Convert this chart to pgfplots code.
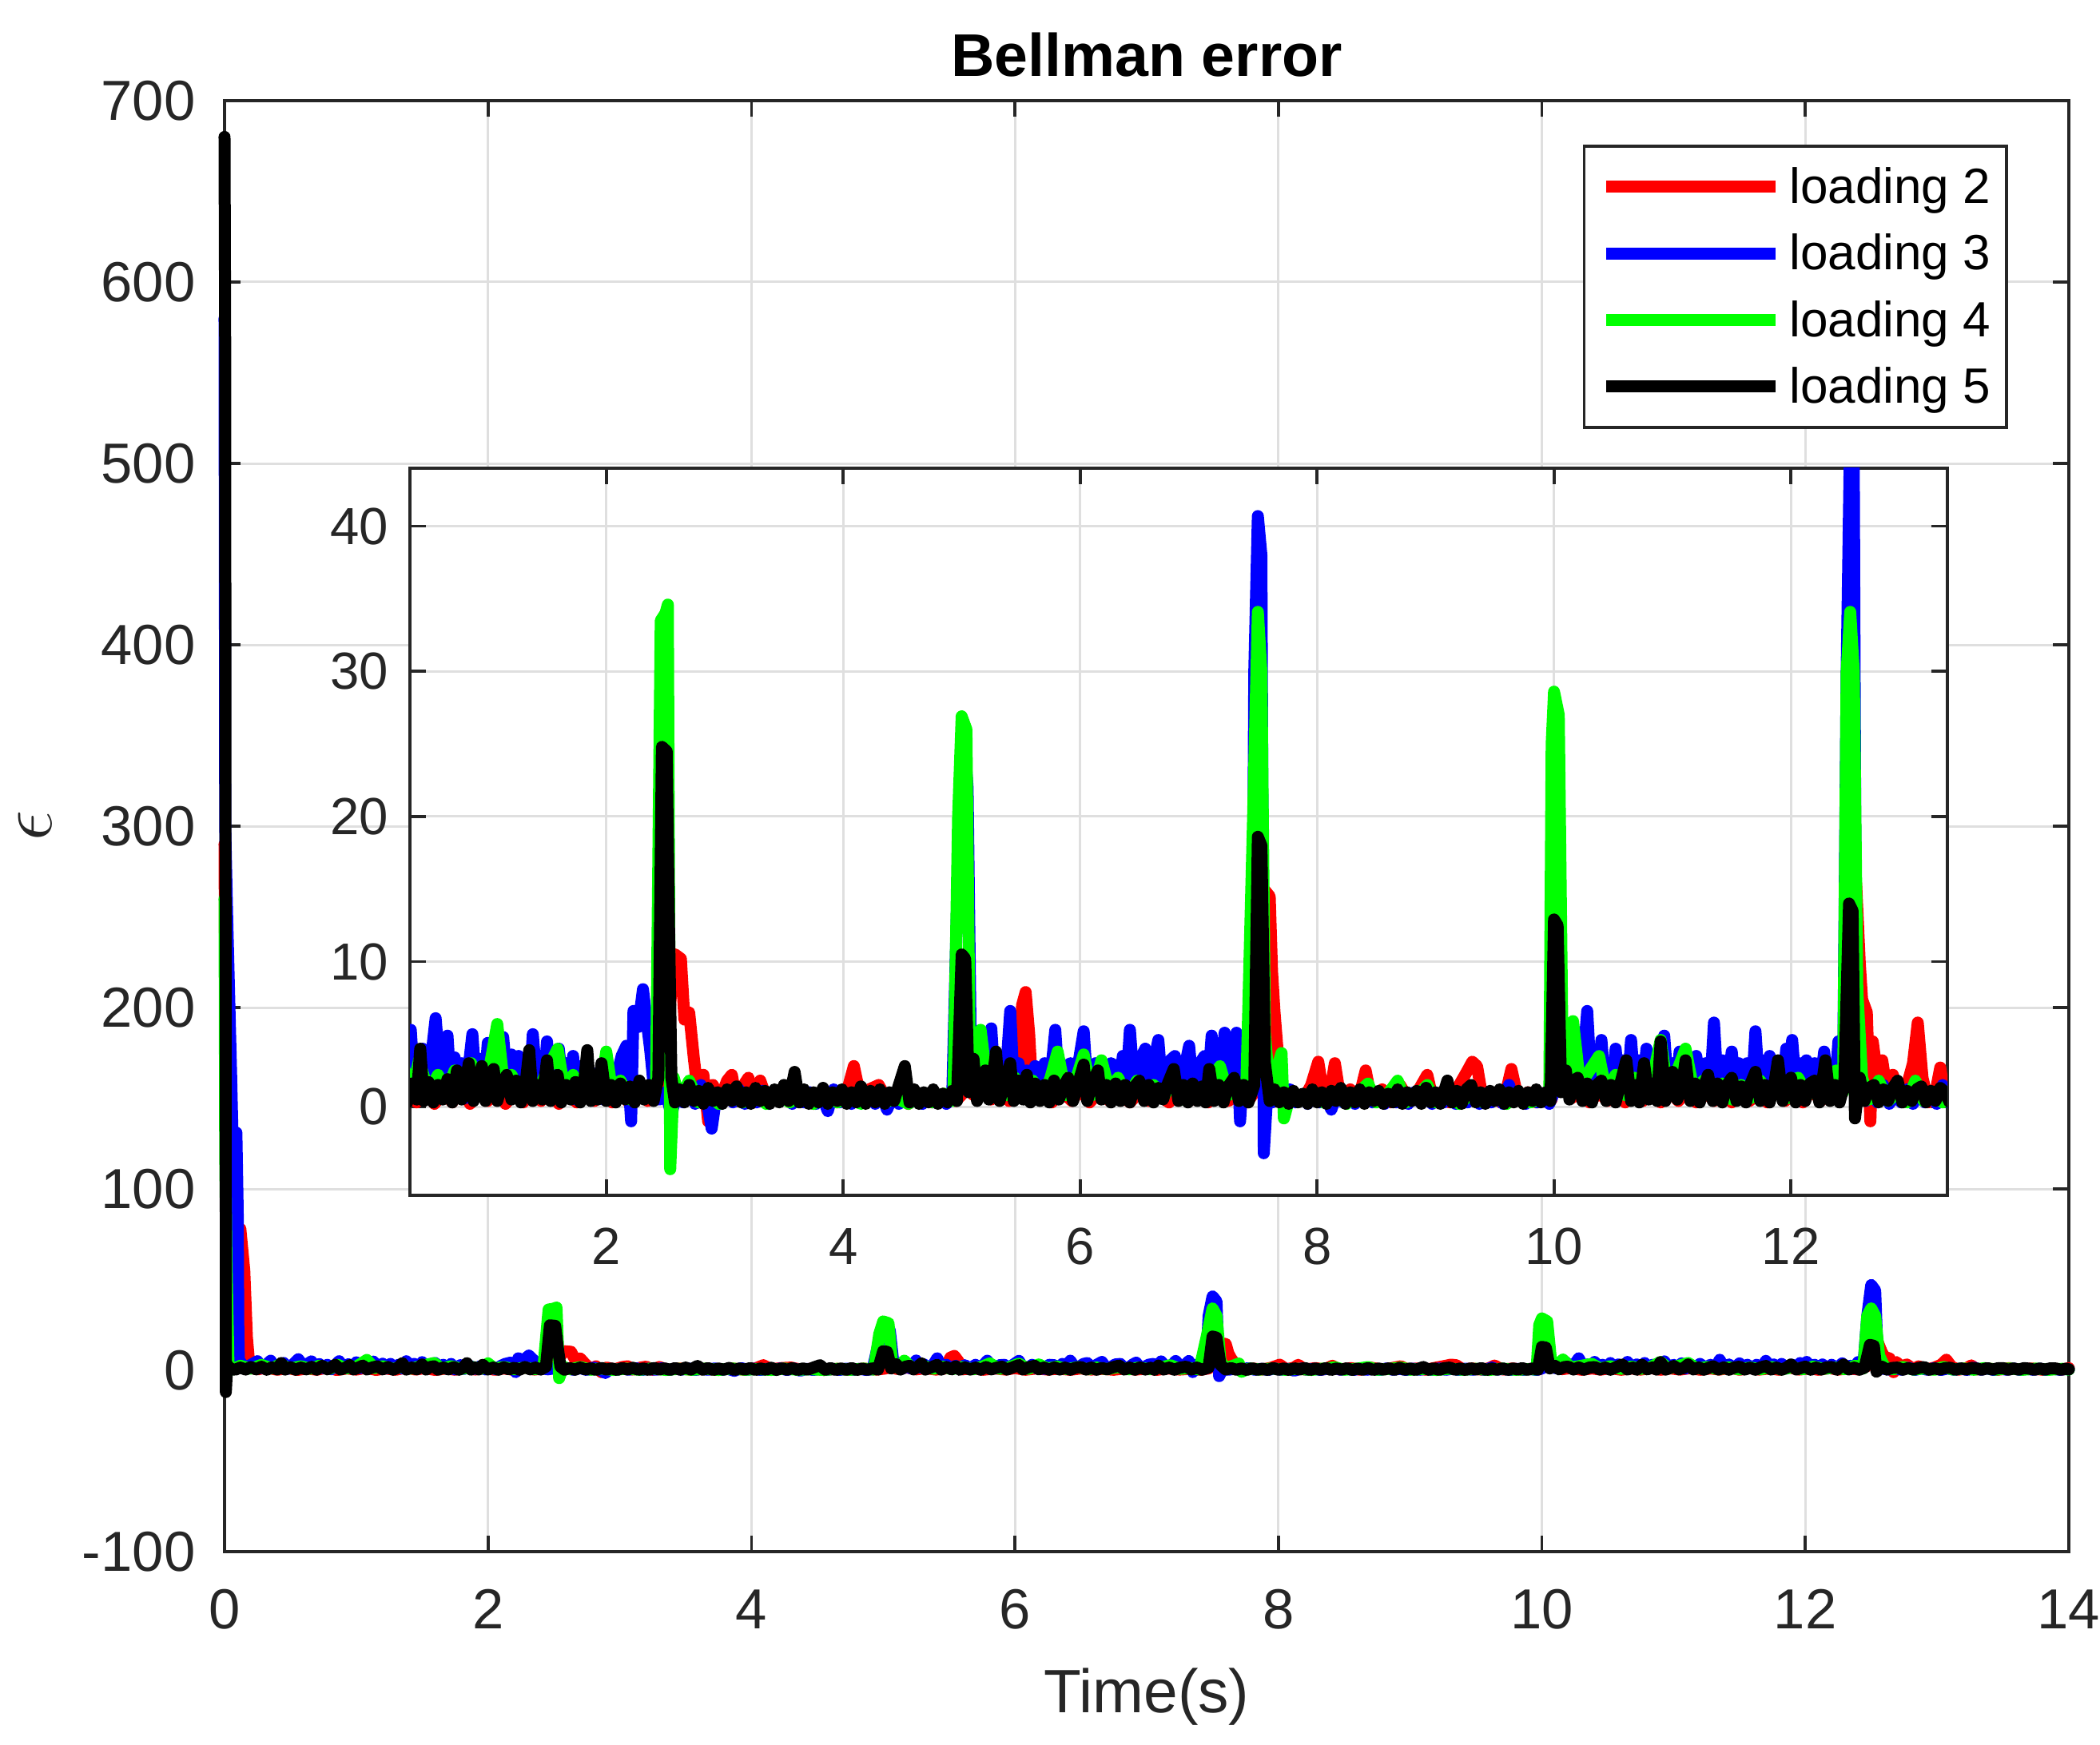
\documentclass[border=0pt]{standalone}
\usepackage{fontspec}
\setmainfont{Liberation Sans}
\usepackage{pgfplots}
\usepackage{pgfplotstable}
\pgfplotsset{compat=1.18}
\definecolor{lred}{RGB}{255,0,0}
\definecolor{lblue}{RGB}{0,0,255}
\definecolor{lgreen}{RGB}{0,255,0}
\definecolor{axisgray}{RGB}{38,38,38}
\definecolor{gridgray}{RGB}{223,223,223}
\newcommand\tickfont{\fontsize{10.6}{12}\selectfont}
\newcommand\insetfont{\fontsize{9.8}{11}\selectfont}
\newcommand\legfont{\fontsize{9.3}{11}\selectfont}

\pgfplotstableread[row sep=\\]{
t v \\
0 290 \\ 0.005 210 \\ 0.02 100 \\ 0.04 80 \\ 0.08 76 \\ 0.12 78 \\ 0.15 55 \\ 0.17 18 \\ 0.19 1.5 \\ 0.25 0.5 \\
0.32 1.5 \\ 0.4 0.3 \\ 0.48 1.2 \\ 0.55 0.2 \\ 0.63 1.0 \\ 0.7 0.3 \\ 0.78 1.5 \\ 0.85 0.2 \\ 0.93 1.0 \\ 1.0 0.4 \\
1.08 1.4 \\ 1.15 0.2 \\ 1.22 1.0 \\ 1.3 0.3 \\ 1.38 1.5 \\ 1.45 0.4 \\ 1.52 1.2 \\ 1.6 0.2 \\ 1.68 1.0 \\ 1.75 0.3 \\
1.82 1.6 \\ 1.9 0.4 \\ 1.98 1.2 \\ 2.05 0.3 \\ 2.12 1.0 \\ 2.2 0.2 \\ 2.28 1.5 \\ 2.35 0.4 \\ 2.42 1.0 \\ 2.48 2.0 \\
2.55 8.0 \\ 2.58 10.5 \\ 2.63 10.2 \\ 2.66 6.0 \\ 2.7 6.5 \\ 2.74 3.3 \\ 2.78 0.5 \\ 2.82 2.2 \\ 2.86 -1.0 \\ 2.9 1.5 \\
2.96 0.5 \\ 3.02 1.8 \\ 3.06 2.2 \\ 3.1 0.4 \\ 3.16 1.5 \\ 3.2 2.0 \\ 3.25 0.3 \\ 3.3 1.8 \\ 3.36 0.4 \\ 3.45 1.0 \\
3.55 0.3 \\ 3.65 0.8 \\ 3.75 0.2 \\ 3.85 1.0 \\ 3.95 0.3 \\ 4.03 1.0 \\ 4.09 2.8 \\ 4.15 0.5 \\ 4.22 1.2 \\ 4.3 1.5 \\
4.38 0.3 \\ 4.46 0.9 \\ 4.55 0.2 \\ 4.65 0.8 \\ 4.75 0.3 \\ 4.85 0.9 \\ 4.95 0.4 \\ 5.02 1.0 \\ 5.06 3.0 \\ 5.1 0.8 \\
5.18 1.5 \\ 5.25 0.5 \\ 5.32 1.2 \\ 5.4 0.4 \\ 5.47 1.0 \\ 5.51 7.0 \\ 5.54 7.9 \\ 5.57 5.0 \\ 5.6 0.5 \\ 5.68 1.2 \\
5.76 0.3 \\ 5.85 1.0 \\ 5.93 0.4 \\ 6.0 1.2 \\ 6.08 0.3 \\ 6.16 1.0 \\ 6.25 0.4 \\ 6.33 0.9 \\ 6.42 0.3 \\ 6.5 1.0 \\
6.58 0.4 \\ 6.66 0.8 \\ 6.75 0.3 \\ 6.83 1.0 \\ 6.92 0.4 \\ 7.0 0.9 \\ 7.08 0.3 \\ 7.16 1.0 \\ 7.25 0.4 \\ 7.33 0.8 \\
7.41 0.3 \\ 7.47 1.0 \\ 7.52 8.0 \\ 7.56 14.9 \\ 7.6 14.5 \\ 7.62 9.3 \\ 7.64 6.6 \\ 7.68 2.5 \\ 7.72 0.3 \\ 7.8 1.0 \\
7.88 0.4 \\ 7.95 1.5 \\ 8.01 3.1 \\ 8.06 0.5 \\ 8.12 1.5 \\ 8.15 3.0 \\ 8.2 0.4 \\ 8.28 1.2 \\ 8.35 0.5 \\ 8.41 2.5 \\
8.46 0.4 \\ 8.55 1.2 \\ 8.62 0.3 \\ 8.7 1.5 \\ 8.78 0.4 \\ 8.86 1.2 \\ 8.93 2.2 \\ 8.98 0.4 \\ 9.05 1.0 \\ 9.12 0.3 \\
9.2 1.5 \\ 9.27 2.5 \\ 9.31 3.1 \\ 9.35 2.8 \\ 9.4 0.4 \\ 9.47 1.0 \\ 9.55 0.3 \\ 9.6 1.2 \\ 9.64 2.6 \\ 9.7 0.4 \\
9.78 1.0 \\ 9.85 0.3 \\ 9.92 0.8 \\ 9.98 0.5 \\ 10.02 4.0 \\ 10.05 6.6 \\ 10.09 2.0 \\ 10.15 0.6 \\ 10.22 1.2 \\ 10.3 0.3 \\
10.38 1.0 \\ 10.45 0.4 \\ 10.52 1.2 \\ 10.6 0.3 \\ 10.68 1.0 \\ 10.75 0.4 \\ 10.83 1.2 \\ 10.9 0.3 \\ 10.98 1.0 \\ 11.05 0.4 \\
11.13 1.2 \\ 11.2 0.3 \\ 11.28 1.0 \\ 11.35 0.4 \\ 11.43 1.5 \\ 11.5 0.3 \\ 11.58 1.2 \\ 11.65 0.4 \\ 11.73 1.0 \\ 11.8 0.3 \\
11.88 1.5 \\ 11.95 0.4 \\ 12.03 1.0 \\ 12.1 0.3 \\ 12.18 1.2 \\ 12.25 0.4 \\ 12.33 1.0 \\ 12.4 0.5 \\ 12.46 2.0 \\ 12.52 10.0 \\
12.55 15.4 \\ 12.58 10.0 \\ 12.6 7.4 \\ 12.64 6.5 \\ 12.67 -1.0 \\ 12.69 4.5 \\ 12.73 2.0 \\ 12.77 3.2 \\ 12.82 0.5 \\ 12.86 2.2 \\
12.92 0.4 \\ 12.98 1.5 \\ 13.03 3.0 \\ 13.07 5.8 \\ 13.11 2.0 \\ 13.16 0.3 \\ 13.22 1.0 \\ 13.26 2.7 \\ 13.3 0.5 \\ 13.38 1.0 \\
13.46 0.3 \\ 13.55 1.2 \\ 13.63 0.4 \\ 13.72 1.0 \\ 13.8 0.3 \\ 13.88 0.9 \\ 13.95 0.4 \\ 14.0 1.2 \\
}\redtab

\pgfplotstableread[row sep=\\]{
t v \\
0 580 \\ 0.005 300 \\ 0.02 250 \\ 0.05 163 \\ 0.06 131 \\ 0.09 131 \\ 0.1 88 \\ 0.105 20 \\ 0.11 2 \\ 0.12 4.5 \\
0.16 1.0 \\ 0.20 3.0 \\ 0.25 5.0 \\ 0.28 1.2 \\ 0.32 3.2 \\ 0.35 5.3 \\ 0.38 1.5 \\ 0.42 3.0 \\ 0.45 4.0 \\ 0.48 0.8 \\
0.52 3.2 \\ 0.56 6.1 \\ 0.60 2.0 \\ 0.63 3.5 \\ 0.66 4.9 \\ 0.69 1.0 \\ 0.72 3.4 \\ 0.75 1.2 \\ 0.78 3.0 \\ 0.81 0.6 \\
0.84 2.8 \\ 0.87 5.0 \\ 0.90 1.5 \\ 0.94 3.3 \\ 0.97 1.0 \\ 1.00 4.4 \\ 1.03 1.2 \\ 1.06 3.0 \\ 1.10 1.5 \\ 1.13 4.8 \\
1.16 2.0 \\ 1.20 3.6 \\ 1.23 1.0 \\ 1.26 3.5 \\ 1.29 1.2 \\ 1.32 3.0 \\ 1.35 1.0 \\ 1.38 5.0 \\ 1.41 2.0 \\ 1.44 3.5 \\
1.47 1.0 \\ 1.50 4.5 \\ 1.53 1.0 \\ 1.56 3.2 \\ 1.60 4.0 \\ 1.63 1.5 \\ 1.66 3.0 \\ 1.69 0.8 \\ 1.72 3.5 \\ 1.75 0.5 \\
1.79 2.8 \\ 1.82 0.8 \\ 1.86 2.5 \\ 1.90 0.8 \\ 1.94 2.2 \\ 1.98 0.5 \\ 2.02 1.5 \\ 2.06 0.6 \\ 2.10 2.5 \\ 2.13 3.5 \\
2.17 4.2 \\ 2.21 -1.0 \\ 2.23 6.6 \\ 2.27 5.5 \\ 2.31 8.1 \\ 2.34 6.0 \\ 2.37 4.0 \\ 2.40 1.5 \\ 2.45 0.5 \\ 2.50 1.0 \\
2.55 -0.5 \\ 2.60 1.0 \\ 2.65 0.3 \\ 2.70 1.2 \\ 2.75 0.2 \\ 2.80 1.5 \\ 2.85 0.4 \\ 2.89 -1.5 \\ 2.93 0.8 \\ 2.97 0.2 \\
3.02 1.0 \\ 3.07 0.3 \\ 3.12 1.2 \\ 3.17 0.2 \\ 3.22 0.9 \\ 3.27 0.3 \\ 3.32 1.1 \\ 3.37 0.2 \\ 3.42 0.9 \\ 3.47 0.4 \\
3.52 1.0 \\ 3.57 0.2 \\ 3.62 0.8 \\ 3.67 0.3 \\ 3.72 1.0 \\ 3.77 0.2 \\ 3.82 0.8 \\ 3.87 -0.3 \\ 3.92 1.2 \\ 3.97 0.3 \\
4.02 0.9 \\ 4.07 0.2 \\ 4.12 0.8 \\ 4.17 0.3 \\ 4.22 1.0 \\ 4.27 0.2 \\ 4.32 1.0 \\ 4.37 -0.2 \\ 4.42 0.8 \\ 4.47 0.2 \\
4.52 0.9 \\ 4.57 0.3 \\ 4.62 0.7 \\ 4.67 0.2 \\ 4.72 0.9 \\ 4.77 0.3 \\ 4.82 0.8 \\ 4.87 0.2 \\ 4.92 0.6 \\ 4.98 20 \\
5.02 25.5 \\ 5.05 22 \\ 5.08 2 \\ 5.12 4.0 \\ 5.15 1.0 \\ 5.18 2.5 \\ 5.21 1.0 \\ 5.25 5.4 \\ 5.28 1.5 \\ 5.31 3.2 \\
5.34 1.5 \\ 5.38 3.0 \\ 5.41 6.6 \\ 5.44 1.2 \\ 5.48 3.0 \\ 5.51 1.0 \\ 5.55 2.5 \\ 5.58 0.8 \\ 5.62 2.8 \\ 5.66 0.8 \\
5.70 3.0 \\ 5.73 1.2 \\ 5.76 2.8 \\ 5.79 5.3 \\ 5.82 1.5 \\ 5.85 1.0 \\ 5.88 2.8 \\ 5.92 3.0 \\ 5.95 1.0 \\ 5.99 3.2 \\
6.03 5.2 \\ 6.06 1.5 \\ 6.10 1.0 \\ 6.13 3.0 \\ 6.16 1.2 \\ 6.19 2.8 \\ 6.22 0.8 \\ 6.26 3.0 \\ 6.30 2.8 \\ 6.33 1.0 \\
6.36 3.5 \\ 6.39 1.5 \\ 6.42 5.3 \\ 6.45 2.0 \\ 6.48 1.5 \\ 6.52 3.5 \\ 6.55 4.0 \\ 6.58 1.0 \\ 6.62 3.0 \\ 6.66 4.6 \\
6.69 1.5 \\ 6.72 1.2 \\ 6.76 3.2 \\ 6.80 3.5 \\ 6.83 1.0 \\ 6.86 0.8 \\ 6.89 3.0 \\ 6.92 4.2 \\ 6.95 1.5 \\ 6.98 1.0 \\
7.01 3.0 \\ 7.05 3.5 \\ 7.08 1.5 \\ 7.11 4.9 \\ 7.14 2.0 \\ 7.17 1.2 \\ 7.20 3.5 \\ 7.22 5.1 \\ 7.25 2.5 \\ 7.28 2.0 \\
7.32 5.1 \\ 7.35 -1.0 \\ 7.38 3.0 \\ 7.40 2.0 \\ 7.45 1.0 \\ 7.47 30 \\ 7.50 40.7 \\ 7.53 38 \\ 7.55 -3.2 \\ 7.58 1.0 \\
7.62 0.3 \\ 7.67 0.9 \\ 7.72 0.2 \\ 7.77 1.2 \\ 7.82 0.3 \\ 7.87 0.8 \\ 7.92 0.2 \\ 7.97 1.0 \\ 8.02 0.3 \\ 8.07 0.8 \\
8.12 -0.2 \\ 8.17 1.0 \\ 8.22 0.3 \\ 8.27 0.8 \\ 8.32 0.2 \\ 8.37 0.9 \\ 8.42 1.5 \\ 8.47 0.3 \\ 8.52 0.8 \\ 8.57 0.2 \\
8.62 0.9 \\ 8.67 0.3 \\ 8.72 0.8 \\ 8.77 0.2 \\ 8.82 1.0 \\ 8.87 0.3 \\ 8.92 0.8 \\ 8.97 0.2 \\ 9.02 0.9 \\ 9.07 0.3 \\
9.12 0.8 \\ 9.17 0.2 \\ 9.22 1.0 \\ 9.27 0.3 \\ 9.32 0.8 \\ 9.37 0.2 \\ 9.42 0.9 \\ 9.47 0.3 \\ 9.52 0.8 \\ 9.57 0.2 \\
9.62 1.5 \\ 9.66 0.4 \\ 9.71 0.8 \\ 9.76 0.2 \\ 9.81 0.8 \\ 9.86 0.3 \\ 9.91 0.7 \\ 9.96 0.2 \\ 10.00 1.0 \\ 10.05 3.0 \\
10.08 2.0 \\ 10.11 1.0 \\ 10.14 3.0 \\ 10.18 4.5 \\ 10.22 1.5 \\ 10.25 3.5 \\ 10.28 6.6 \\ 10.31 2.0 \\ 10.34 3.2 \\ 10.37 1.5 \\
10.40 4.6 \\ 10.43 1.5 \\ 10.46 3.0 \\ 10.49 1.0 \\ 10.52 4.0 \\ 10.55 1.2 \\ 10.58 3.2 \\ 10.62 1.0 \\ 10.65 4.6 \\ 10.68 1.5 \\
10.72 3.2 \\ 10.75 1.2 \\ 10.78 4.0 \\ 10.81 1.2 \\ 10.84 3.0 \\ 10.87 1.0 \\ 10.90 3.8 \\ 10.93 4.9 \\ 10.96 1.5 \\ 11.00 3.0 \\
11.03 1.0 \\ 11.06 3.8 \\ 11.09 1.0 \\ 11.12 3.0 \\ 11.16 1.2 \\ 11.20 3.5 \\ 11.24 1.5 \\ 11.28 3.0 \\ 11.32 1.5 \\ 11.35 5.8 \\
11.38 1.5 \\ 11.42 3.2 \\ 11.46 1.0 \\ 11.50 3.8 \\ 11.53 1.2 \\ 11.56 3.0 \\ 11.60 1.0 \\ 11.63 3.0 \\ 11.67 1.2 \\ 11.70 5.2 \\
11.73 1.5 \\ 11.76 3.2 \\ 11.79 1.0 \\ 11.82 3.5 \\ 11.86 1.0 \\ 11.90 3.0 \\ 11.93 1.2 \\ 11.96 4.0 \\ 11.98 2.0 \\ 12.01 4.6 \\
12.04 1.5 \\ 12.07 3.0 \\ 12.10 1.0 \\ 12.13 3.2 \\ 12.17 1.0 \\ 12.20 3.0 \\ 12.24 1.0 \\ 12.28 3.8 \\ 12.31 1.5 \\ 12.34 2.5 \\
12.37 1.0 \\ 12.40 4.5 \\ 12.44 2.0 \\ 12.47 30 \\ 12.50 47 \\ 12.53 44 \\ 12.55 5 \\ 12.58 1.0 \\ 12.63 0.4 \\ 12.68 1.2 \\
12.73 0.3 \\ 12.78 1.5 \\ 12.83 0.2 \\ 12.88 1.0 \\ 12.93 0.3 \\ 12.98 1.2 \\ 13.03 0.2 \\ 13.08 1.0 \\ 13.13 0.3 \\ 13.18 0.9 \\
13.23 0.2 \\ 13.28 1.5 \\ 13.33 0.3 \\ 13.38 1.0 \\ 13.43 0.2 \\ 13.48 0.9 \\ 13.53 0.3 \\ 13.58 1.0 \\ 13.63 0.2 \\ 13.68 0.8 \\
13.73 0.3 \\ 13.78 0.9 \\ 13.83 0.2 \\ 13.88 0.8 \\ 13.93 0.3 \\ 13.98 0.7 \\ 14.00 0.5 \\
}\bluetab

\pgfplotstableread[row sep=\\]{
t v \\
0 260 \\ 0.005 120 \\ 0.015 60 \\ 0.03 3 \\ 0.06 0.5 \\ 0.12 2.5 \\ 0.2 0.8 \\ 0.28 3.0 \\ 0.36 1.0 \\ 0.42 3.2 \\
0.5 1.0 \\ 0.58 2.2 \\ 0.65 0.8 \\ 0.72 2.5 \\ 0.8 0.9 \\ 0.86 3.0 \\ 0.92 1.0 \\ 1.0 2.0 \\ 1.08 5.7 \\ 1.14 1.2 \\
1.2 2.2 \\ 1.28 0.8 \\ 1.35 2.0 \\ 1.42 0.9 \\ 1.5 2.5 \\ 1.59 4.0 \\ 1.65 1.0 \\ 1.72 2.2 \\ 1.8 0.8 \\ 1.88 1.8 \\
1.95 0.9 \\ 2.0 3.8 \\ 2.05 1.0 \\ 2.12 1.8 \\ 2.2 0.5 \\ 2.28 1.5 \\ 2.35 0.6 \\ 2.42 1.2 \\ 2.46 33.5 \\ 2.5 34.0 \\
2.52 34.6 \\ 2.54 -4.3 \\ 2.57 2.0 \\ 2.62 0.5 \\ 2.7 1.8 \\ 2.78 0.3 \\ 2.86 1.0 \\ 2.95 0.2 \\ 3.05 0.9 \\ 3.15 0.3 \\
3.25 1.0 \\ 3.35 0.2 \\ 3.45 0.8 \\ 3.55 0.3 \\ 3.65 0.9 \\ 3.75 0.2 \\ 3.85 1.0 \\ 3.95 0.3 \\ 4.05 0.7 \\ 4.15 0.2 \\
4.25 0.9 \\ 4.35 0.3 \\ 4.45 0.6 \\ 4.55 0.2 \\ 4.65 0.8 \\ 4.75 0.3 \\ 4.85 0.9 \\ 4.93 0.4 \\ 4.97 20 \\ 5.0 26.9 \\
5.04 26 \\ 5.07 2.0 \\ 5.12 1.5 \\ 5.16 5.3 \\ 5.22 1.2 \\ 5.3 2.5 \\ 5.38 0.8 \\ 5.45 2.0 \\ 5.52 0.6 \\ 5.6 1.8 \\
5.68 0.5 \\ 5.75 2.0 \\ 5.81 3.8 \\ 5.88 0.8 \\ 5.95 1.5 \\ 6.03 3.6 \\ 6.1 0.8 \\ 6.18 3.2 \\ 6.25 1.0 \\ 6.32 2.0 \\
6.4 0.6 \\ 6.48 1.8 \\ 6.55 0.5 \\ 6.62 1.5 \\ 6.7 0.6 \\ 6.78 1.8 \\ 6.86 0.5 \\ 6.94 1.5 \\ 7.02 0.6 \\ 7.1 1.5 \\
7.18 2.8 \\ 7.25 0.8 \\ 7.32 1.2 \\ 7.4 0.5 \\ 7.46 20 \\ 7.5 34.1 \\ 7.53 30 \\ 7.56 5 \\ 7.6 1.0 \\ 7.7 3.7 \\
7.72 -0.8 \\ 7.78 1.0 \\ 7.86 0.4 \\ 7.95 1.0 \\ 8.05 0.3 \\ 8.15 0.8 \\ 8.25 0.2 \\ 8.35 1.0 \\ 8.43 1.6 \\ 8.5 0.3 \\
8.6 0.9 \\ 8.68 1.8 \\ 8.75 0.3 \\ 8.85 0.8 \\ 8.93 1.5 \\ 9.0 0.3 \\ 9.1 0.8 \\ 9.2 0.2 \\ 9.3 0.9 \\ 9.4 0.3 \\
9.5 0.8 \\ 9.6 0.2 \\ 9.7 0.9 \\ 9.8 0.3 \\ 9.9 0.6 \\ 9.96 0.5 \\ 9.98 25 \\ 10.0 28.6 \\ 10.04 27 \\ 10.07 5 \\
10.1 2.0 \\ 10.16 5.9 \\ 10.22 1.5 \\ 10.3 2.5 \\ 10.38 3.5 \\ 10.44 1.0 \\ 10.52 2.2 \\ 10.6 0.8 \\ 10.68 2.0 \\ 10.75 0.8 \\
10.82 1.5 \\ 10.9 4.6 \\ 10.96 1.0 \\ 11.04 2.5 \\ 11.11 4.0 \\ 11.18 1.0 \\ 11.26 1.8 \\ 11.34 0.6 \\ 11.42 1.6 \\ 11.5 0.5 \\
11.58 1.5 \\ 11.66 0.6 \\ 11.74 1.8 \\ 11.82 0.5 \\ 11.9 1.6 \\ 11.98 0.6 \\ 12.06 2.0 \\ 12.14 0.8 \\ 12.22 1.5 \\ 12.3 0.6 \\
12.38 2.5 \\ 12.44 1.0 \\ 12.47 30 \\ 12.5 34.1 \\ 12.53 30 \\ 12.56 8 \\ 12.6 2.0 \\ 12.66 0.5 \\ 12.74 1.8 \\ 12.82 0.4 \\
12.9 1.0 \\ 12.98 0.3 \\ 13.05 1.8 \\ 13.12 0.4 \\ 13.2 1.0 \\ 13.28 0.3 \\ 13.36 1.2 \\ 13.45 0.4 \\ 13.55 1.0 \\ 13.65 0.3 \\
13.75 0.9 \\ 13.85 0.3 \\ 13.95 0.8 \\ 14.0 0.4 \\
}\greentab

\pgfplotstableread[row sep=\\]{
t v \\
0 680 \\ 0.005 560 \\ 0.01 -12 \\ 0.02 3 \\ 0.04 1.0 \\ 0.08 0.3 \\ 0.12 1.5 \\ 0.16 0.4 \\ 0.20 1.8 \\ 0.24 0.5 \\
0.28 2.0 \\ 0.32 0.3 \\ 0.36 1.6 \\ 0.40 0.5 \\ 0.43 4.0 \\ 0.46 0.4 \\ 0.50 1.7 \\ 0.54 0.3 \\ 0.58 1.5 \\ 0.62 0.5 \\
0.66 1.9 \\ 0.70 0.3 \\ 0.74 2.5 \\ 0.78 0.5 \\ 0.81 1.6 \\ 0.84 3.0 \\ 0.88 0.4 \\ 0.92 1.5 \\ 0.95 2.8 \\ 0.98 0.4 \\
1.02 1.6 \\ 1.05 2.6 \\ 1.08 0.4 \\ 1.12 1.5 \\ 1.16 2.2 \\ 1.20 0.5 \\ 1.24 1.8 \\ 1.28 0.3 \\ 1.32 1.6 \\ 1.35 3.9 \\
1.38 0.4 \\ 1.42 1.5 \\ 1.46 0.5 \\ 1.50 3.2 \\ 1.53 0.4 \\ 1.56 1.8 \\ 1.59 2.2 \\ 1.62 0.3 \\ 1.66 1.5 \\ 1.70 0.5 \\
1.74 1.7 \\ 1.78 0.3 \\ 1.81 1.4 \\ 1.84 3.9 \\ 1.87 0.4 \\ 1.90 1.6 \\ 1.93 0.5 \\ 1.96 3.0 \\ 2.00 0.4 \\ 2.04 1.5 \\
2.08 0.3 \\ 2.12 1.6 \\ 2.16 0.5 \\ 2.20 1.4 \\ 2.24 0.3 \\ 2.28 1.8 \\ 2.32 0.5 \\ 2.36 1.5 \\ 2.40 0.4 \\ 2.44 2.0 \\
2.47 24.8 \\ 2.51 24.5 \\ 2.53 12.3 \\ 2.55 2.0 \\ 2.58 0.3 \\ 2.62 1.2 \\ 2.66 0.3 \\ 2.70 1.5 \\ 2.74 0.4 \\ 2.78 1.1 \\
2.82 0.2 \\ 2.86 1.3 \\ 2.90 0.4 \\ 2.94 1.0 \\ 2.98 0.2 \\ 3.02 1.2 \\ 3.06 0.4 \\ 3.10 1.4 \\ 3.14 0.3 \\ 3.18 1.0 \\
3.22 0.2 \\ 3.26 1.3 \\ 3.30 0.4 \\ 3.34 1.1 \\ 3.38 0.2 \\ 3.42 1.2 \\ 3.46 0.3 \\ 3.50 1.5 \\ 3.54 0.4 \\ 3.59 2.4 \\
3.63 0.3 \\ 3.67 1.2 \\ 3.71 0.2 \\ 3.75 1.0 \\ 3.79 0.3 \\ 3.83 1.3 \\ 3.87 0.2 \\ 3.91 1.0 \\ 3.95 0.4 \\ 3.99 1.2 \\
4.03 0.2 \\ 4.07 1.0 \\ 4.11 0.3 \\ 4.15 1.4 \\ 4.19 0.2 \\ 4.23 1.1 \\ 4.27 0.3 \\ 4.31 1.2 \\ 4.35 0.2 \\ 4.39 1.0 \\
4.43 0.4 \\ 4.47 1.5 \\ 4.52 2.8 \\ 4.56 0.3 \\ 4.60 1.2 \\ 4.64 0.2 \\ 4.68 1.0 \\ 4.72 0.3 \\ 4.76 1.2 \\ 4.80 0.2 \\
4.84 0.9 \\ 4.88 0.3 \\ 4.92 1.1 \\ 4.96 0.4 \\ 5.00 10.5 \\ 5.03 10.2 \\ 5.06 1.0 \\ 5.10 3.3 \\ 5.13 0.4 \\ 5.17 2.0 \\
5.20 2.5 \\ 5.23 0.5 \\ 5.26 1.8 \\ 5.29 3.8 \\ 5.32 0.4 \\ 5.36 1.5 \\ 5.41 3.0 \\ 5.44 0.4 \\ 5.48 1.8 \\ 5.52 0.5 \\
5.55 2.2 \\ 5.58 0.3 \\ 5.62 1.6 \\ 5.66 0.4 \\ 5.70 1.5 \\ 5.74 0.3 \\ 5.78 1.8 \\ 5.82 0.5 \\ 5.86 1.4 \\ 5.90 2.0 \\
5.94 0.4 \\ 5.98 1.5 \\ 6.03 2.9 \\ 6.06 0.4 \\ 6.10 1.6 \\ 6.15 2.5 \\ 6.18 0.5 \\ 6.22 1.5 \\ 6.26 0.3 \\ 6.30 1.6 \\
6.34 0.4 \\ 6.38 1.5 \\ 6.42 0.3 \\ 6.46 1.4 \\ 6.50 1.8 \\ 6.54 0.4 \\ 6.58 1.5 \\ 6.62 0.3 \\ 6.66 1.3 \\ 6.70 0.5 \\
6.74 1.6 \\ 6.79 2.6 \\ 6.83 0.4 \\ 6.87 1.5 \\ 6.91 0.3 \\ 6.95 1.6 \\ 6.99 0.4 \\ 7.03 1.4 \\ 7.06 0.3 \\ 7.09 2.6 \\
7.13 0.4 \\ 7.17 1.5 \\ 7.21 0.3 \\ 7.25 1.4 \\ 7.30 2.0 \\ 7.34 0.4 \\ 7.38 1.5 \\ 7.42 0.3 \\ 7.47 1.5 \\ 7.50 18.6 \\
7.53 18.0 \\ 7.56 3.0 \\ 7.60 0.4 \\ 7.64 1.2 \\ 7.68 0.3 \\ 7.72 1.0 \\ 7.76 0.2 \\ 7.80 1.1 \\ 7.84 0.3 \\ 7.88 0.9 \\
7.92 0.2 \\ 7.96 1.2 \\ 8.00 0.3 \\ 8.04 1.0 \\ 8.08 0.2 \\ 8.12 1.1 \\ 8.16 0.4 \\ 8.20 1.3 \\ 8.24 0.2 \\ 8.28 1.0 \\
8.32 0.3 \\ 8.36 1.2 \\ 8.40 0.2 \\ 8.44 1.0 \\ 8.48 0.4 \\ 8.52 1.1 \\ 8.56 0.2 \\ 8.60 0.9 \\ 8.64 0.3 \\ 8.68 1.2 \\
8.72 0.2 \\ 8.76 1.0 \\ 8.80 0.4 \\ 8.84 1.1 \\ 8.88 0.2 \\ 8.92 1.3 \\ 8.96 0.3 \\ 9.00 1.0 \\ 9.04 0.2 \\ 9.10 1.8 \\
9.14 0.3 \\ 9.18 1.1 \\ 9.22 0.2 \\ 9.26 1.2 \\ 9.30 1.5 \\ 9.34 0.3 \\ 9.38 1.0 \\ 9.42 0.2 \\ 9.46 1.1 \\ 9.50 0.4 \\
9.54 1.2 \\ 9.58 0.2 \\ 9.62 1.0 \\ 9.66 0.3 \\ 9.70 1.1 \\ 9.74 0.2 \\ 9.78 1.0 \\ 9.82 0.4 \\ 9.85 1.2 \\ 9.89 0.3 \\
9.93 1.0 \\ 9.97 0.4 \\ 10.00 12.9 \\ 10.03 12.5 \\ 10.06 1.0 \\ 10.10 2.5 \\ 10.13 0.5 \\ 10.17 1.8 \\ 10.20 2.0 \\ 10.24 0.4 \\
10.28 1.6 \\ 10.32 0.3 \\ 10.36 1.5 \\ 10.40 1.8 \\ 10.44 0.4 \\ 10.48 1.5 \\ 10.52 0.3 \\ 10.56 1.6 \\ 10.61 3.2 \\ 10.65 0.4 \\
10.69 1.5 \\ 10.72 0.3 \\ 10.76 3.0 \\ 10.80 0.5 \\ 10.84 1.6 \\ 10.87 0.4 \\ 10.90 4.5 \\ 10.94 0.4 \\ 10.98 1.5 \\ 11.00 2.4 \\
11.04 0.5 \\ 11.08 1.4 \\ 11.11 3.2 \\ 11.15 0.4 \\ 11.19 1.6 \\ 11.23 0.3 \\ 11.27 1.5 \\ 11.30 2.2 \\ 11.34 0.4 \\ 11.38 1.6 \\
11.42 0.3 \\ 11.46 1.5 \\ 11.50 2.0 \\ 11.54 0.4 \\ 11.58 1.4 \\ 11.62 0.3 \\ 11.66 1.6 \\ 11.70 2.4 \\ 11.74 0.4 \\ 11.78 1.5 \\
11.82 0.3 \\ 11.86 1.6 \\ 11.89 3.2 \\ 11.93 0.4 \\ 11.97 1.4 \\ 12.00 2.0 \\ 12.04 0.3 \\ 12.08 1.5 \\ 12.12 0.4 \\ 12.16 1.6 \\
12.20 1.8 \\ 12.24 0.3 \\ 12.29 3.2 \\ 12.33 0.4 \\ 12.37 1.5 \\ 12.41 0.3 \\ 12.45 1.5 \\ 12.49 14.0 \\ 12.52 13.5 \\ 12.54 -0.8 \\
12.58 2.0 \\ 12.62 0.4 \\ 12.66 1.3 \\ 12.70 1.5 \\ 12.74 0.3 \\ 12.78 1.2 \\ 12.82 0.4 \\ 12.86 1.3 \\ 12.90 1.8 \\ 12.94 0.3 \\
12.98 1.1 \\ 13.02 0.4 \\ 13.06 1.2 \\ 13.10 1.4 \\ 13.14 0.3 \\ 13.18 1.1 \\ 13.22 0.4 \\ 13.26 1.3 \\ 13.30 1.0 \\ 13.34 0.3 \\
13.38 1.2 \\ 13.42 0.4 \\ 13.46 1.1 \\ 13.50 1.2 \\ 13.54 0.3 \\ 13.58 1.0 \\ 13.62 0.4 \\ 13.66 1.2 \\ 13.70 0.9 \\ 13.74 0.3 \\
13.78 1.0 \\ 13.82 0.4 \\ 13.86 1.1 \\ 13.90 1.0 \\ 13.94 0.3 \\ 13.98 0.9 \\ 14.00 0.5 \\
}\blacktab

\pgfplotsset{
  /pgf/number format/assume math mode=true,
  mlstyle/.style={
    scale only axis,
    axis line style={draw=axisgray, line width=0.55pt},
    tick style={draw=axisgray, line width=0.55pt},
    major tick length=3pt,
    tick align=inside,
    grid=major,
    major grid style={draw=gridgray, line width=0.45pt},
    ticklabel style={color=axisgray},
  },
  dline/.style={line width=2.25pt, line join=round, line cap=round},
}

\begin{document}
\begin{tikzpicture}
\path[use as bounding box] (-42.15pt,-36.15pt) rectangle (352.05pt,291.3pt);
\begin{axis}[
  mlstyle,
  width=346.2pt, height=272.4pt,
  at={(0pt,0pt)}, anchor=south west,
  xmin=0, xmax=14, ymin=-100, ymax=700,
  xtick={0,2,...,14}, ytick={-100,0,...,700},
  clip=false,
  ticklabel style={font=\tickfont},
  xticklabel style={anchor=base, yshift=-14.4pt},
  yticklabel style={anchor=east, inner sep=0pt, xshift=-5.3pt},
  title={Bellman error},
  every axis title shift=0pt,
  title style={at={(axis description cs:0.5,1)}, anchor=base, yshift=4.55pt,
    font=\fontsize{11.3}{13}\selectfont\bfseries},
  xlabel={Time(s)},
  xlabel style={at={(axis description cs:0.5,0)}, anchor=base, yshift=-30.15pt,
    font=\fontsize{11.5}{13}\selectfont, color=axisgray},
  ylabel={$\epsilon$},
  every axis y label/.style={at={(axis description cs:0,0.5)}, rotate=90, anchor=center,
    yshift=35.5pt, inner sep=0pt, font=\fontsize{14}{16}\selectfont, color=axisgray},
  legend style={at={(axis description cs:1,1)}, anchor=north east,
    xshift=-11.4pt, yshift=-8.25pt, draw=axisgray, line width=0.55pt,
    font=\legfont, inner xsep=3pt, inner ysep=1.4pt,
    nodes={inner xsep=0pt, inner ysep=1.75pt, text height=7.6pt, text depth=1.4pt},
    /tikz/every odd column/.append style={column sep=1.5pt}},
  legend cell align=left,
  legend image code/.code={\draw[#1, line width=2.25pt, line cap=butt] (0pt,0pt) -- (31.8pt,0pt);},
]
\addplot[dline, lred] table[x=t,y=v]{\redtab};
\addlegendentry{loading 2}
\addplot[dline, lblue] table[x=t,y=v]{\bluetab};
\addlegendentry{loading 3}
\addplot[dline, lgreen] table[x=t,y=v]{\greentab};
\addlegendentry{loading 4}
\addplot[dline, black] table[x=t,y=v]{\blacktab};
\addlegendentry{loading 5}
\end{axis}

\begin{axis}[
  mlstyle,
  width=288.6pt, height=136.5pt,
  at={(34.8pt,66.9pt)}, anchor=south west,
  xmin=0.343, xmax=13.32, ymin=-6.1, ymax=44.0,
  xtick={2,4,...,12}, ytick={0,10,...,40},
  axis background/.style={fill=white},
  ticklabel style={font=\insetfont},
  xticklabel style={anchor=base, yshift=-12.9pt},
  yticklabel style={anchor=east, inner sep=0pt, xshift=-3.9pt},
]
\addplot[dline, lred] table[x=t,y=v]{\redtab};
\addplot[dline, lblue] table[x=t,y=v]{\bluetab};
\addplot[dline, lgreen] table[x=t,y=v]{\greentab};
\addplot[dline, black] table[x=t,y=v]{\blacktab};
\end{axis}
\end{tikzpicture}
\end{document}
